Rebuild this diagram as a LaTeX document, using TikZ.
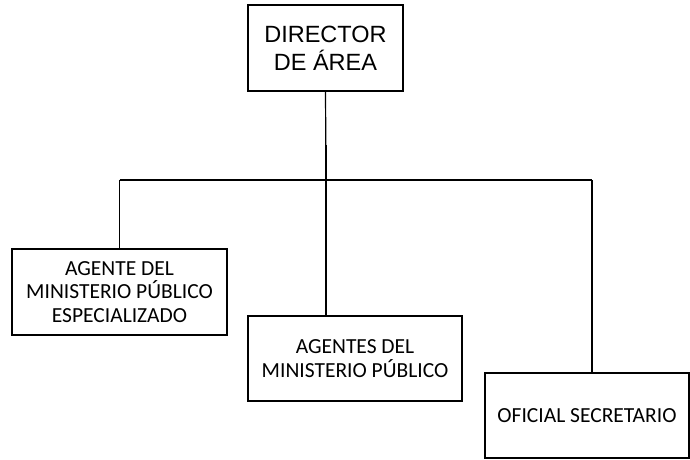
\documentclass[tikz,border=0pt]{standalone}
\usepackage{fontspec}
\setmainfont{Carlito}
\newfontfamily\arialfont{Liberation Sans}
\usetikzlibrary{positioning}
\tikzset{
  box/.style={draw,line width=1.3pt,align=center,inner sep=0pt},
  lnk/.style={line width=1.2pt},
  bos/.style={box,font=\arialfont\fontsize{23.5}{28}\selectfont},
  sub/.style={box,font=\fontsize{21.5}{23.5}\selectfont}
}
\begin{document}
\begin{tikzpicture}[x=1pt,y=1pt]
\useasboundingbox (0,0) rectangle (690,-459);
\node[bos,minimum width=155,minimum height=86] (dir) at (325.5,-48) {DIRECTOR\\DE ÁREA};
\node[sub,minimum width=215,minimum height=86] (esp) at (119.5,-292) {AGENTE DEL\\MINISTERIO PÚBLICO\\ESPECIALIZADO};
\node[sub,minimum width=214,minimum height=85] (agt) at (355,-358.5) {AGENTES DEL\\MINISTERIO PÚBLICO};
\node[sub,minimum width=204,minimum height=85] (ofi) at (587,-415.5) {OFICIAL SECRETARIO};
\coordinate (hub) at (326,-180);
\coordinate (hl) at (esp.north |- hub);
\coordinate (hr) at (592,-180);
\draw[lnk] (dir.south) -- (hub);
\draw[line width=2.2pt] ([yshift=35]hub) -- (hub);
\draw[lnk] (hl) -- (hr);
\draw[lnk] (hl) -- (esp.north);
\draw[lnk] (hub) -- (hub |- agt.north);
\draw[lnk] (hr) -- (hr |- ofi.north);
\end{tikzpicture}
\end{document}
